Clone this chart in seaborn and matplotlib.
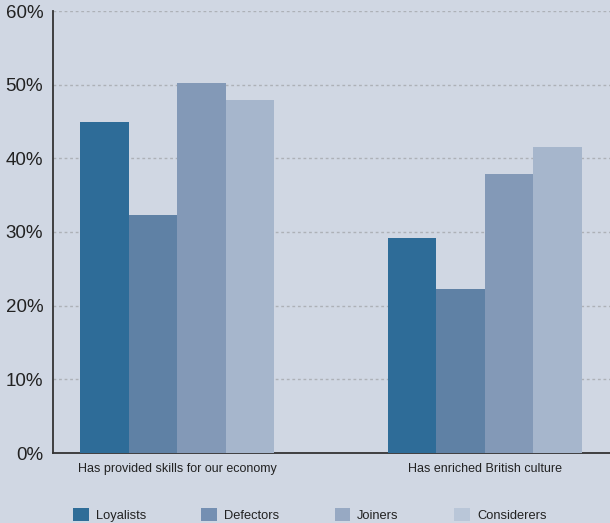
import matplotlib
matplotlib.use("Agg")
import matplotlib.pyplot as plt
import matplotlib.patches as mpatches
import pandas as pd
import seaborn as sns

# values (percent)
statements = ["Has provided skills for our economy", "Has enriched British culture"]
groups = ["Loyalists", "Defectors", "Joiners", "Considerers"]
loyalists = [44.9, 29.2]
defectors = [32.3, 22.3]
joiners = [50.2, 37.9]
considerers = [47.9, 41.5]

bar_colors = ["#2e6c98", "#5f81a5", "#8399b7", "#a6b6cc"]
legend_colors = ["#2f6d98", "#748fb2", "#97a9c3", "#b9c6d8"]
bg = "#d0d7e3"

rows = []
for g, vals in zip(groups, [loyalists, defectors, joiners, considerers]):
    for s, v in zip(statements, vals):
        rows.append({"statement": s, "group": g, "share": v})
df = pd.DataFrame(rows)

sns.set_style("white")
plt.rcParams["font.family"] = ["Liberation Sans", "DejaVu Sans"]

fig = plt.figure(figsize=(6.1, 5.23), dpi=100, facecolor=bg)
ax = fig.add_axes([53 / 610, 70 / 523, 1 - 53 / 610, 442 / 523])
ax.set_facecolor(bg)

sns.barplot(df, x="statement", y="share", hue="group", order=statements,
            hue_order=groups, palette=bar_colors, width=0.63, gap=0,
            saturation=1, errorbar=None, ax=ax, legend=False, zorder=3)
for p in ax.patches:
    p.set_edgecolor("none")

ax.set_ylim(0, 60)
ax.set_yticks(range(0, 61, 10))
ax.set_yticklabels([f"{t}%" for t in range(0, 61, 10)], fontsize=13.5, color="#222222")
ax.set_xlim(-0.403, 1.406)
ax.set_xticks([0, 1])
ax.set_xticklabels(statements, fontsize=9.0, color="#222222")
ax.tick_params(axis="x", length=0, pad=7)
ax.set_xticks([0.516], minor=True)
ax.tick_params(axis="x", which="minor", length=5, width=1, color="#333333", direction="out")
ax.tick_params(axis="y", length=5, width=1.2, color="#333333", pad=2)
ax.set_xlabel("")
ax.set_ylabel("")

for y in range(10, 61, 10):
    ax.axhline(y, color="#adb1b7", lw=1, ls=(0, (2, 2)), zorder=1)

for side in ["top", "right"]:
    ax.spines[side].set_visible(False)
for side in ["left", "bottom"]:
    ax.spines[side].set_color("#333333")
    ax.spines[side].set_linewidth(1.3)

handles = [mpatches.Patch(facecolor=c, edgecolor="none", label=g)
           for g, c in zip(groups, legend_colors)]
fig.legend(handles=handles, loc="center left", bbox_to_anchor=(73 / 610, 8 / 523),
           ncol=4, frameon=False, fontsize=9.3, handlelength=1.2, handleheight=1.2,
           handletextpad=0.55, columnspacing=4.3, borderpad=0, borderaxespad=0,
           labelcolor="#222222")

fig.savefig("out.png", dpi=100, facecolor=bg)
